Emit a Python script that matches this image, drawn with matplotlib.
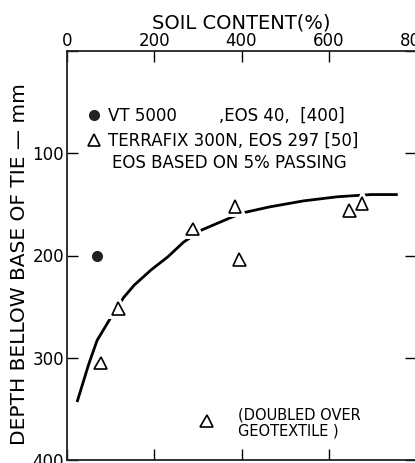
import matplotlib.pyplot as plt
import matplotlib.patheffects as pe
from matplotlib.lines import Line2D

# values
vt_soil = [68]
vt_depth = [200]

terra_soil = [77, 118, 288, 385, 395, 320, 647, 676]
terra_depth = [305, 252, 174, 152, 204, 362, 156, 149]

curve_soil = [24, 50, 69, 100, 130, 154, 193, 232, 267, 309, 375, 406, 464, 542, 619, 697, 755]
curve_depth = [342, 306, 283, 261, 241, 229, 214, 201, 187, 175, 163, 158, 152.5, 146.6, 142.6, 140.4, 140.4]

x_ticks = [0, 200, 400, 600, 800]
y_ticks = [0, 100, 200, 300, 400]
y_labels = ['', '100', '200', '300', '400']

plt.rcParams['font.family'] = ['DejaVu Sans']

fig = plt.figure(figsize=(4.15, 4.63), dpi=100)
ax = fig.add_axes([67 / 415, 3 / 463, 349 / 415, 409 / 463])

ax.plot(curve_soil, curve_depth, color='black', lw=2.0, zorder=2)

halo = [pe.Stroke(linewidth=5, foreground='white'), pe.Normal()]
ax.plot(terra_soil, terra_depth, linestyle='none', marker='^', ms=9,
        mfc='white', mec='black', mew=1.2, zorder=3, path_effects=halo)
ax.plot(vt_soil, vt_depth, linestyle='none', marker='o', ms=7,
        color='#222222', zorder=3)

ax.set_xlim(0, 800)
ax.set_ylim(400, 0)
ax.set_xticks(x_ticks)
ax.set_yticks(y_ticks)
ax.set_yticklabels(y_labels)

ax.xaxis.set_label_position('top')
ax.set_xlabel('SOIL CONTENT(%)', fontsize=14, labelpad=2)
ax.set_ylabel('DEPTH BELLOW BASE OF TIE — mm', fontsize=14.5)
ax.yaxis.set_label_coords(-0.11, 0.48)

ax.tick_params(axis='x', which='both', top=True, bottom=True, labeltop=True,
               labelbottom=False, direction='in', length=8, width=1.0,
               labelsize=12, pad=1)
ax.tick_params(axis='y', which='both', left=True, right=True, direction='in',
               length=8, width=1.0, labelsize=12, pad=2)

for side in ['top', 'left', 'bottom']:
    ax.spines[side].set_linewidth(1.3)
    ax.spines[side].set_color('#222222')
ax.spines['right'].set_visible(False)

handles = [
    Line2D([], [], linestyle='none', marker='o', ms=7, color='#222222'),
    Line2D([], [], linestyle='none', marker='^', ms=9, mfc='white',
           mec='black', mew=1.2),
]
labels = ['VT 5000        ,EOS 40,  [400]', 'TERRAFIX 300N, EOS 297 [50]']
ax.legend(handles, labels, loc='upper left', bbox_to_anchor=(0.035, 0.88),
          frameon=False, fontsize=12, handlelength=1.0, handletextpad=0.3,
          labelspacing=0.4, borderaxespad=0)

ax.text(0.129, 0.726, 'EOS BASED ON 5% PASSING', transform=ax.transAxes,
        fontsize=12, va='center', ha='left')
ax.text(0.49, 0.09, '(DOUBLED OVER\nGEOTEXTILE )', transform=ax.transAxes,
        fontsize=10.5, va='center', ha='left', linespacing=1.05)

fig.savefig('out.png', dpi=100)
